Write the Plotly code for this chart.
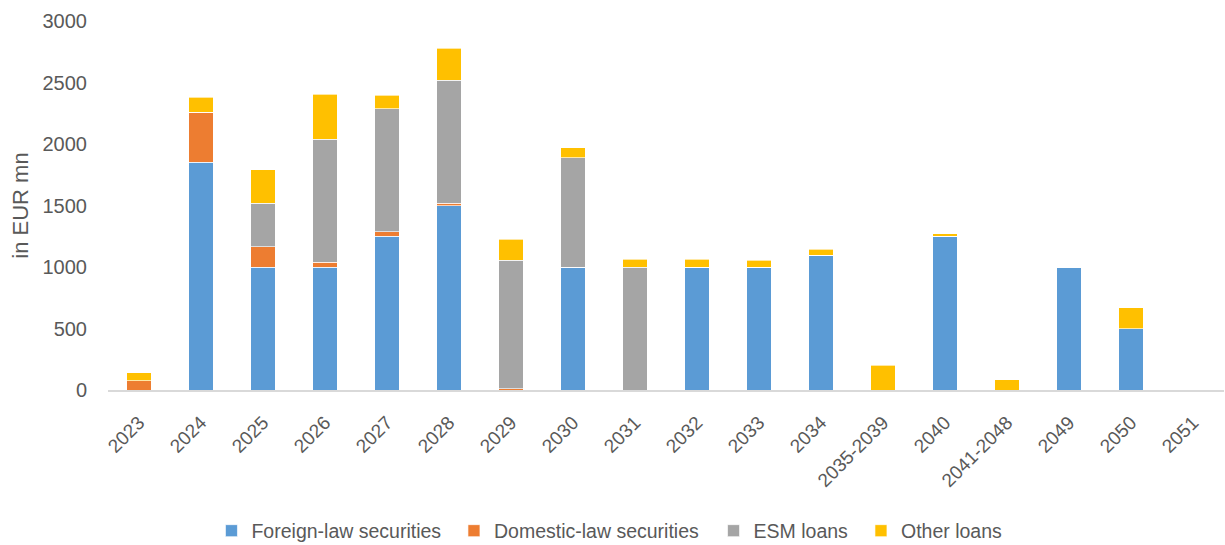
import plotly.graph_objects as go

categories = ["2023", "2024", "2025", "2026", "2027", "2028", "2029", "2030", "2031",
              "2032", "2033", "2034", "2035-2039", "2040", "2041-2048", "2049", "2050", "2051"]
foreign_law = [0, 1850, 1000, 1000, 1250, 1500, 0, 1000, 0, 1000, 1000, 1095, 0, 1250, 0, 1000, 500, 0]
domestic_law = [75, 410, 165, 40, 35, 20, 10, 0, 0, 0, 0, 0, 0, 0, 0, 0, 0, 0]
esm_loans = [0, 0, 355, 1000, 1000, 1000, 1045, 890, 1000, 0, 0, 0, 0, 0, 0, 0, 0, 0]
other_loans = [65, 120, 270, 365, 110, 260, 170, 80, 65, 65, 55, 50, 200, 20, 85, 0, 170, 0]

series = [
    ("Foreign-law securities", foreign_law, "#5B9BD5", "legend", 0.0927),
    ("Domestic-law securities", domestic_law, "#ED7D31", "legend2", 0.3100),
    ("ESM loans", esm_loans, "#A5A5A5", "legend3", 0.5426),
    ("Other loans", other_loans, "#FFC000", "legend4", 0.6747),
]

FONT = "Liberation Sans, Arial, sans-serif"
TXT = "#595959"

fig = go.Figure()
legends = {}
for name, vals, color, leg, lx in series:
    fig.add_trace(go.Bar(
        x=categories, y=vals, name=name, legend=leg,
        marker=dict(color=color, line=dict(color="rgba(255,255,255,0.8)", width=0.8)),
    ))
    legends[leg] = dict(orientation="h", x=lx, xanchor="left",
                        yref="container", y=0.0257, yanchor="middle",
                        itemwidth=30, bgcolor="rgba(0,0,0,0)",
                        font=dict(family=FONT, size=19.5, color=TXT))

fig.update_layout(
    barmode="stack",
    bargap=0.6,
    width=1225, height=545,
    autosize=False,
    margin=dict(l=108, r=1, t=21, b=155),
    paper_bgcolor="white", plot_bgcolor="white",
    font=dict(family=FONT, color=TXT, size=20),
    showlegend=True,
    xaxis=dict(type="category", tickangle=-45, showgrid=False, showline=True,
               linecolor="#D9D9D9", linewidth=2, ticks="", ticklabelstandoff=12,
               automargin=False,
               tickfont=dict(family=FONT, size=19, color=TXT)),
    yaxis=dict(range=[0, 3000], dtick=500, showgrid=False, showline=False, zeroline=False,
               ticks="", ticklabelstandoff=20, automargin=False,
               tickfont=dict(family=FONT, size=20, color=TXT),
               title=dict(text="in EUR mn", standoff=7,
                          font=dict(family=FONT, size=22, color=TXT))),
    **legends,
)

fig.write_html("out.html", config={"displayModeBar": False, "responsive": False},
               post_script="document.body.style.margin='0';")
